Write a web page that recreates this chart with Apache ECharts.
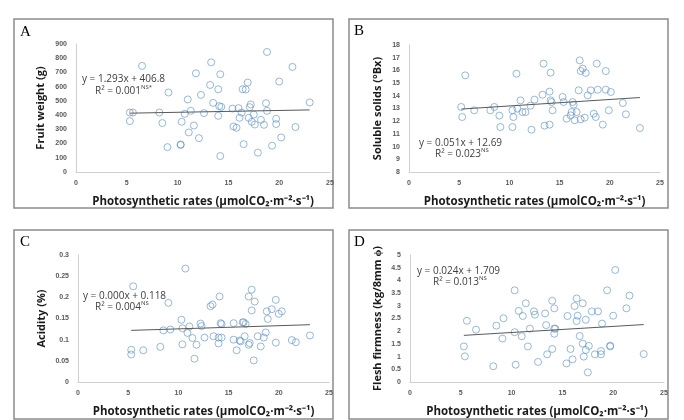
<!DOCTYPE html>
<html><head><meta charset="utf-8">
<script src="https://cdn.jsdelivr.net/npm/echarts@6/dist/echarts.min.js"></script>
<style>html,body{margin:0;padding:0;background:#fff}#c{width:684px;height:420px}</style>
</head><body><div id="c"></div>
<script>
// Panel A: fruit weight (g)
const photoA = [5.3,5.3,5.6,6.5,8.2,8.5,9.0,9.1,10.3,10.3,10.4,10.7,11.0,11.1,11.3,11.6,11.8,12.1,12.3,12.6,13.2,13.3,13.5,14.0,14.0,14.1,14.3,14.2,14.2,15.4,15.5,15.8,16.0,16.1,16.3,16.5,16.4,16.7,16.9,17.0,17.1,17.2,17.3,17.5,17.6,17.9,18.2,18.5,18.7,18.8,18.8,19.3,19.7,19.7,20.0,20.2,21.3,21.6,23.0];
const fruitWeight = [358,418,418,746,418,344,175,559,194,190,353,409,510,278,430,327,694,238,542,414,612,771,486,582,395,463,458,112,687,446,320,311,449,381,418,196,582,580,629,381,456,475,353,404,334,136,367,332,484,430,844,185,374,337,636,243,739,316,489];
// Panel B: soluble solids (°Bx)
const photoB = [5.2,5.3,5.6,6.5,8.1,8.5,9.0,9.1,10.3,10.3,10.4,10.7,10.8,11.1,11.3,11.6,12.1,12.2,12.5,13.4,13.3,13.5,14.0,14.0,14.1,14.1,14.2,14.3,15.3,15.4,15.7,16.1,16.2,16.3,16.4,16.5,16.7,16.9,17.0,17.1,17.1,17.3,17.5,17.6,17.8,18.1,18.4,18.6,18.7,18.8,19.3,19.6,19.6,19.9,20.1,21.3,21.6,23.0];
const solubleSolids = [13.12,12.33,15.61,12.86,12.86,13.12,12.44,11.54,11.54,12.86,12.33,15.74,12.99,13.64,12.72,12.72,13.22,11.33,13.70,16.53,14.09,11.65,11.73,14.33,15.82,13.64,13.51,12.86,13.91,13.51,12.20,12.46,12.72,13.51,13.30,12.07,12.72,14.43,16.79,12.15,15.95,16.14,12.28,15.80,14.04,14.43,12.59,12.33,16.53,14.48,11.73,15.95,14.48,12.86,14.30,13.43,12.54,11.46];
// Panel C: acidity (%)
const photoC = [5.3,5.3,5.5,6.5,8.2,8.5,9.0,9.2,10.3,10.4,10.4,10.7,10.9,11.1,11.4,11.6,11.8,12.2,12.3,12.6,13.2,13.4,13.5,14.0,14.0,14.1,14.2,14.3,14.3,15.5,15.5,15.8,16.1,16.2,16.4,16.5,16.6,16.7,17.0,17.0,17.1,17.3,17.3,17.5,17.6,17.9,18.2,18.5,18.7,18.8,18.9,19.3,19.7,19.7,20.0,20.3,21.3,21.7,23.1];
const acidity = [0.065,0.076,0.226,0.075,0.083,0.122,0.187,0.124,0.147,0.127,0.089,0.268,0.116,0.131,0.104,0.055,0.088,0.138,0.132,0.105,0.179,0.183,0.108,0.105,0.091,0.202,0.139,0.137,0.105,0.139,0.100,0.075,0.098,0.096,0.141,0.141,0.108,0.137,0.202,0.088,0.092,0.218,0.169,0.051,0.190,0.108,0.084,0.105,0.117,0.167,0.149,0.172,0.194,0.093,0.161,0.167,0.099,0.094,0.110];
// Panel D: flesh firmness
const photoD = [5.3,5.4,5.6,6.5,8.2,8.5,9.1,9.2,10.3,10.3,10.4,10.7,11.0,11.1,11.4,11.6,11.8,12.2,12.3,12.6,13.3,13.4,13.5,14.0,14.0,14.2,14.2,14.2,14.3,15.4,15.5,15.8,16.0,16.2,16.4,16.4,16.5,16.7,17.0,17.0,17.1,17.3,17.3,17.5,17.6,17.9,18.2,18.5,18.8,18.8,18.9,19.4,19.7,19.7,20.0,20.2,21.3,21.6,23.0];
const firmness = [1.40,1.01,2.41,2.06,0.62,2.22,1.71,2.51,3.61,1.96,0.68,2.80,1.80,2.60,3.10,1.40,2.10,2.78,2.65,0.79,2.70,2.24,1.09,3.20,1.30,1.90,2.90,2.10,2.10,0.73,2.60,1.30,0.89,2.99,2.40,3.29,2.61,1.81,3.10,1.51,1.00,2.45,1.26,0.38,1.42,2.78,1.09,2.78,1.09,1.22,2.30,3.61,1.43,1.40,2.61,4.41,2.90,3.40,1.10];

const panelLetters = ['A','B','C','D'];
const yNames = ['Fruit weight (g)','Soluble solids (°Bx)','Acidity (%)','Flesh firmness (kg/8mm ϕ)'];
const xName = 'Photosynthetic rates (μmolCO₂·m⁻²·s⁻¹)';
const yMins = [0, 8, 0, 0];
const yMaxs = [900, 18, 0.3, 5];
const yIntervals = [100, 1, 0.05, 0.5];
const trendSlopes = [1.293, 0.051, 0.00075, 0.024];
const trendIntercepts = [406.8, 12.69, 0.118, 1.709];
const eqLines = ['y = 1.293x + 406.8','y = 0.051x + 12.69','y = 0.000x + 0.118','y = 0.024x + 1.709'];
const r2Values = ['0.001','0.023','0.004','0.013'];
const r2Sups = ['NS*','NS','NS','NS'];

const xs = [photoA, photoB, photoC, photoD];
const ys = [fruitWeight, solubleSolids, acidity, firmness];

const grids = [
  {left:76, right:354, top:44, bottom:248},
  {left:409, right:24, top:45, bottom:248},
  {left:78, right:355, top:255, bottom:38},
  {left:410, right:20, top:255, bottom:38}
];
const frames = [[14,19],[349,19],[14,230],[349,230]];
const letterPos = [[20,32],[354,31],[20,242],[354,242]];
const eqPos = [[82,79,95,91],[419,143,435,154],[83,296,95,307],[417,271,433,282]];
const yNameGaps = [30, 26, 31, 27];

const lab = {fontFamily:'Liberation Sans', fontSize:7, color:'#595959', fontWeight:'bold'};
const nameStyle = {fontFamily:'Open Sans', fontSize:11, fontWeight:'bold', color:'#1a1a1a'};

const xAxis = [], yAxis = [], series = [], graphic = [];
for (let i = 0; i < 4; i++) {
  xAxis.push({gridIndex:i, type:'value', min:0, max:25, interval:5,
    axisLine:{show:true, lineStyle:{color:'#d0d0d0'}}, axisTick:{show:false}, splitLine:{show:false},
    axisLabel:Object.assign({margin:8}, lab),
    name:xName, nameLocation:'middle', nameGap:24, nameTextStyle:Object.assign({}, nameStyle, {fontSize:11.5})});
  yAxis.push({gridIndex:i, type:'value', min:yMins[i], max:yMaxs[i], interval:yIntervals[i],
    axisLine:{show:true, lineStyle:{color:'#d0d0d0'}}, axisTick:{show:false}, splitLine:{show:false},
    axisLabel:Object.assign({margin:9}, lab),
    name:yNames[i], nameLocation:'middle', nameGap:yNameGaps[i], nameTextStyle:nameStyle});
  const pts = xs[i].map((x, k) => [x, ys[i][k]]);
  series.push({type:'scatter', xAxisIndex:i, yAxisIndex:i, data:pts, symbol:'circle', symbolSize:7,
    itemStyle:{color:'rgba(255,255,255,0)', borderColor:'#5f8fc0', borderWidth:0.8}, silent:true});
  const x0 = Math.min(...xs[i]), x1 = Math.max(...xs[i]);
  series.push({type:'line', xAxisIndex:i, yAxisIndex:i, symbol:'none', silent:true,
    data:[[x0, trendSlopes[i]*x0 + trendIntercepts[i]], [x1, trendSlopes[i]*x1 + trendIntercepts[i]]],
    lineStyle:{color:'#595959', width:1}});
  graphic.push({type:'rect', shape:{x:frames[i][0], y:frames[i][1], width:319, height:189},
    style:{fill:'none', stroke:'#8c8c8c', lineWidth:1.5}, z:-1});
  graphic.push({type:'text', x:letterPos[i][0], y:letterPos[i][1],
    style:{text:panelLetters[i], font:'15px "Liberation Serif"', fill:'#000', verticalAlign:'middle'}});
  graphic.push({type:'text', x:eqPos[i][0], y:eqPos[i][1],
    style:{text:eqLines[i], font:'10px "Open Sans"', fill:'#404040', verticalAlign:'middle'}});
  graphic.push({type:'text', x:eqPos[i][2], y:eqPos[i][3],
    style:{text:'R² = ' + r2Values[i] + '{s|' + r2Sups[i] + '}', font:'10px "Open Sans"', fill:'#404040', verticalAlign:'middle',
      rich:{s:{fontSize:6, fontFamily:'Open Sans', fill:'#404040', verticalAlign:'top', lineHeight:13}}}});
}

const chart = echarts.init(document.getElementById('c'), null, {renderer:'canvas'});
chart.setOption({backgroundColor:'#fff', animation:false, grid:grids, xAxis, yAxis, series, graphic});
</script></body></html>
